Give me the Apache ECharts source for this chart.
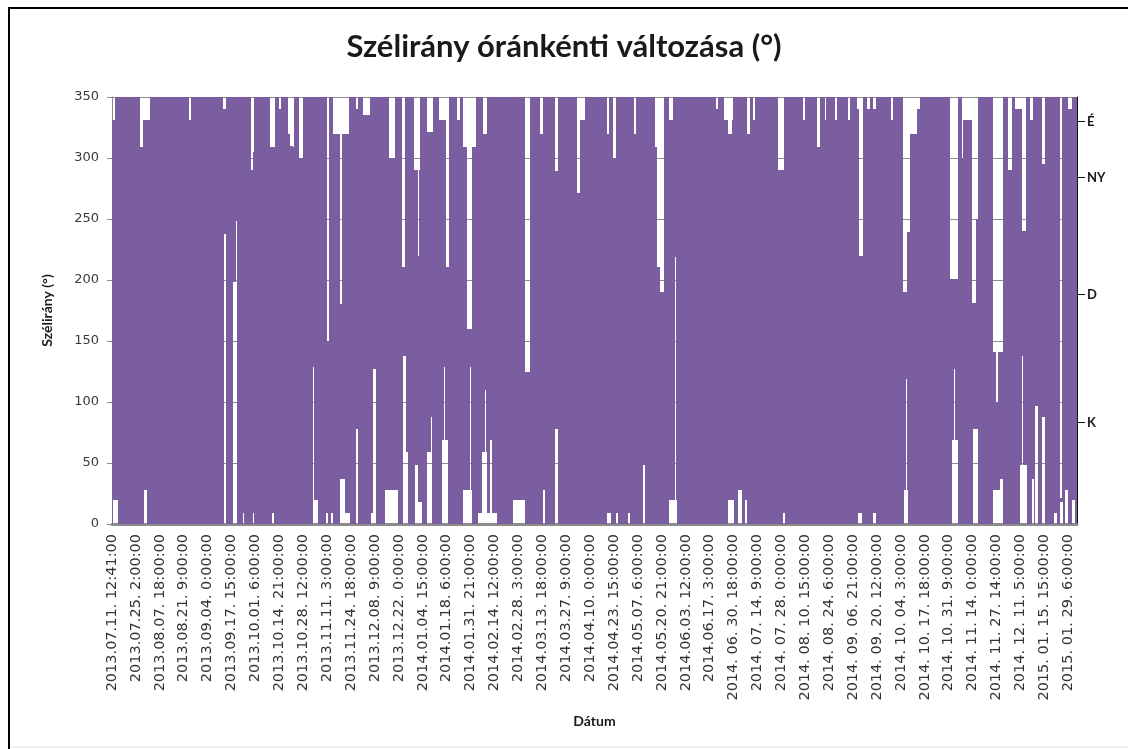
<!DOCTYPE html>
<html>
<head>
<meta charset="utf-8">
<title>Szélirány óránkénti változása</title>
<script src="https://cdn.jsdelivr.net/npm/echarts@6/dist/echarts.min.js"></script>
<style>
  html, body { margin: 0; padding: 0; background: #ffffff; }
  #chart { width: 1128px; height: 749px; }
</style>
</head>
<body>
<div id="chart"></div>
<script>
// Hourly records: index of the record (one per hour) on the x axis
const RECORD_COUNT = 13200;
const LABEL_STEP = 327; // records between two date labels

const dateLabels = [
  '2013.07.11. 12:41:00', '2013.07.25. 2:00:00', '2013.08.07. 18:00:00', '2013.08.21. 9:00:00',
  '2013.09.04. 0:00:00', '2013.09.17. 15:00:00', '2013.10.01. 6:00:00', '2013.10.14. 21:00:00',
  '2013.10.28. 12:00:00', '2013.11.11. 3:00:00', '2013.11.24. 18:00:00', '2013.12.08. 9:00:00',
  '2013.12.22. 0:00:00', '2014.01.04. 15:00:00', '2014.01.18. 6:00:00', '2014.01.31. 21:00:00',
  '2014.02.14. 12:00:00', '2014.02.28. 3:00:00', '2014.03.13. 18:00:00', '2014.03.27. 9:00:00',
  '2014.04.10. 0:00:00', '2014.04.23. 15:00:00', '2014.05.07. 6:00:00', '2014.05.20. 21:00:00',
  '2014.06.03. 12:00:00', '2014.06.17. 3:00:00', '2014. 06. 30. 18:00:00', '2014. 07. 14. 9:00:00',
  '2014. 07. 28. 0:00:00', '2014. 08. 10. 15:00:00', '2014. 08. 24. 6:00:00', '2014. 09. 06. 21:00:00',
  '2014. 09. 20. 12:00:00', '2014. 10. 04. 3:00:00', '2014. 10. 17. 18:00:00', '2014. 10. 31. 9:00:00',
  '2014. 11. 14. 0:00:00', '2014. 11. 27. 14:00:00', '2014. 12. 11. 5:00:00', '2015. 01. 15. 15:00:00',
  '2015. 01. 29. 6:00:00'
];

const DIR_MAX = 350;
const compassValues = [330, 284, 188, 83];
const compassNames = ['É', 'NY', 'D', 'K'];

// Record spans where the hourly direction never reached the top: [from, to, highest direction]
const topCuts = [
  [0, 41, 331], [383, 420, 309], [397, 520, 331], [1060, 1074, 331], [1514, 1560, 340],
  [1895, 1945, 305], [1905, 1935, 290], [2161, 2230, 309], [2290, 2305, 340],
  [2408, 2476, 320], [2435, 2476, 310], [2480, 2495, 309], [2558, 2613, 300],
  [2937, 2969, 150], [3023, 3119, 320], [3119, 3146, 180], [3146, 3242, 320],
  [3338, 3365, 340], [3434, 3530, 335], [3789, 3871, 300], [3963, 4008, 211],
  [4131, 4213, 290], [4186, 4200, 220], [4309, 4391, 321], [4473, 4569, 331],
  [4569, 4610, 211], [4715, 4761, 331], [4802, 4980, 309], [4861, 4921, 160],
  [5075, 5130, 320], [5650, 5714, 125], [5855, 5896, 320], [6060, 6101, 289],
  [6357, 6402, 271], [6375, 6471, 331], [6772, 6799, 320], [6854, 6895, 300],
  [7141, 7168, 320], [7428, 7496, 309], [7456, 7538, 211], [7496, 7551, 190],
  [7620, 7674, 331], [8263, 8290, 340], [8372, 8495, 331], [8427, 8482, 320],
  [8687, 8728, 320], [8765, 8796, 331], [9111, 9193, 290], [9449, 9476, 331],
  [9640, 9686, 309], [9754, 9768, 331], [9891, 9918, 331], [10068, 10096, 331],
  [10192, 10274, 340], [10219, 10274, 220], [10328, 10369, 340], [10410, 10451, 340],
  [10653, 10688, 331], [10821, 10880, 190], [10875, 10917, 239], [10917, 11013, 320],
  [11013, 11053, 340], [11464, 11573, 201], [11623, 11646, 300], [11642, 11778, 331],
  [11765, 11820, 181], [11806, 11847, 250], [12052, 12189, 141], [12093, 12121, 100],
  [12257, 12312, 290], [12353, 12449, 340], [12449, 12504, 240], [12558, 12595, 331],
  [12722, 12763, 295], [12969, 12996, 21], [13078, 13133, 340]
];

// Record spans where the hourly direction never went down to zero: [from, to, lowest direction]
const bottomCuts = [
  [14, 82, 20], [438, 479, 28], [1532, 1560, 238], [1651, 1710, 198], [1696, 1714, 248],
  [1792, 1806, 9], [1929, 1943, 9], [2189, 2216, 9], [2750, 2818, 20], [2750, 2768, 129],
  [2928, 2955, 9], [2996, 3023, 9], [3119, 3187, 37], [3187, 3256, 9], [3338, 3365, 78],
  [3543, 3571, 9], [3571, 3612, 127], [3735, 3912, 28], [3981, 4018, 138], [3981, 4049, 59],
  [4145, 4186, 48], [4172, 4241, 18], [4309, 4378, 59], [4357, 4371, 88], [4510, 4596, 69],
  [4542, 4556, 129], [4802, 4925, 28], [4898, 4911, 129], [5007, 5267, 9], [5062, 5130, 59],
  [5096, 5110, 110], [5171, 5198, 69], [5486, 5650, 20], [5896, 5923, 28], [6060, 6101, 78],
  [6772, 6826, 9], [6895, 6922, 9], [7059, 7086, 9], [7264, 7291, 48], [7620, 7729, 20],
  [7702, 7716, 219], [8427, 8509, 20], [8564, 8619, 28], [8660, 8687, 20], [9179, 9207, 9],
  [10205, 10260, 9], [10410, 10451, 9], [10835, 10890, 28], [10862, 10876, 119],
  [11491, 11573, 69], [11518, 11532, 127], [11778, 11847, 78], [12052, 12189, 28],
  [12148, 12189, 37], [12421, 12517, 48], [12449, 12463, 138], [12586, 12613, 37],
  [12627, 12668, 97], [12722, 12763, 88], [12887, 12928, 9], [12969, 13010, 18],
  [13037, 13078, 28], [13133, 13174, 20]
];

// Split the record range at every cut edge and find the covered direction range of each piece
function buildBands() {
  const edgeSet = new Set([0, RECORD_COUNT]);
  topCuts.concat(bottomCuts).forEach(c => { edgeSet.add(c[0]); edgeSet.add(c[1]); });
  const edges = Array.from(edgeSet).sort((a, b) => a - b);
  const bands = [];
  for (let i = 0; i < edges.length - 1; i++) {
    const a = edges[i], b = edges[i + 1], mid = (a + b) / 2;
    let hi = DIR_MAX, lo = 0;
    topCuts.forEach(c => { if (mid > c[0] && mid < c[1]) hi = Math.min(hi, c[2]); });
    bottomCuts.forEach(c => { if (mid > c[0] && mid < c[1]) lo = Math.max(lo, c[2]); });
    if (hi > lo) bands.push([a, b, lo, hi]);
  }
  return bands;
}

const PURPLE = '#7b5ea0';
const labelRecords = dateLabels.map((_, i) => i * LABEL_STEP);
const HEAD_FONT = 'Lato';

const chart = echarts.init(document.getElementById('chart'), null, { renderer: 'canvas' });

chart.setOption({
  animation: false,
  backgroundColor: '#ffffff',
  title: {
    text: 'Szélirány óránkénti változása (°)',
    left: 'center',
    top: 26,
    textStyle: { fontFamily: HEAD_FONT, fontWeight: 'bold', fontSize: 31, color: '#1a1a1a' }
  },
  grid: { left: 112, right: 51, top: 97, bottom: 225, containLabel: false },
  xAxis: {
    type: 'value',
    min: 0,
    max: RECORD_COUNT,
    name: 'Dátum',
    nameLocation: 'middle',
    nameGap: 190,
    nameTextStyle: { fontFamily: HEAD_FONT, fontWeight: 'bold', fontSize: 14, color: '#1a1a1a' },
    axisLine: { show: true, lineStyle: { color: '#8c8c8c', width: 3 } },
    axisTick: { show: false },
    splitLine: { show: false },
    axisLabel: {
      customValues: labelRecords,
      rotate: 90,
      margin: 10,
      fontFamily: 'DejaVu Sans',
      fontSize: 14.5,
      color: '#333333',
      formatter: v => dateLabels[Math.round(v / LABEL_STEP)]
    }
  },
  yAxis: [
    {
      type: 'value',
      min: 0,
      max: DIR_MAX,
      interval: 50,
      name: 'Szélirány (°)',
      nameLocation: 'middle',
      nameGap: 58,
      nameRotate: 90,
      nameTextStyle: { fontFamily: HEAD_FONT, fontWeight: 'bold', fontSize: 14, color: '#1a1a1a' },
      axisLine: { show: true, lineStyle: { color: '#8c8c8c', width: 1 } },
      axisTick: { show: true, inside: false, length: 5, lineStyle: { color: '#8c8c8c' } },
      splitLine: { show: true, lineStyle: { color: '#8c8c8c', width: 1 } },
      axisLabel: { fontFamily: 'DejaVu Sans', fontSize: 13, color: '#3a3a3a', margin: 13 }
    },
    {
      type: 'value',
      position: 'right',
      min: 0,
      max: DIR_MAX,
      axisLine: { show: true, lineStyle: { color: '#111111', width: 1 } },
      axisTick: { show: true, inside: false, length: 8, customValues: compassValues, lineStyle: { color: '#111111' } },
      splitLine: { show: false },
      axisLabel: {
        customValues: compassValues,
        margin: 10,
        fontFamily: HEAD_FONT,
        fontWeight: 'bold',
        fontSize: 13,
        color: '#1a1a1a',
        formatter: v => compassNames[compassValues.indexOf(v)]
      }
    }
  ],
  series: [
    {
      type: 'custom',
      name: 'Szélirány',
      xAxisIndex: 0,
      yAxisIndex: 0,
      clip: true,
      encode: { x: [0, 1], y: [2, 3] },
      data: buildBands(),
      renderItem: (params, api) => {
        const top = api.coord([api.value(0), api.value(3)]);
        const bottom = api.coord([api.value(1), api.value(2)]);
        const x0 = Math.round(top[0]);
        const x1 = Math.round(bottom[0]);
        const y0 = Math.round(top[1]);
        const y1 = Math.round(bottom[1]);
        if (x1 <= x0 || y1 <= y0) return null;
        return {
          type: 'rect',
          shape: { x: x0, y: y0, width: x1 - x0, height: y1 - y0 },
          style: { fill: PURPLE }
        };
      }
    }
  ],
  graphic: [
    { type: 'line', shape: { x1: 8, y1: 8, x2: 1128, y2: 8 }, style: { stroke: '#000000', lineWidth: 2 } },
    { type: 'line', shape: { x1: 9, y1: 8, x2: 9, y2: 749 }, style: { stroke: '#000000', lineWidth: 2 } },
    { type: 'line', shape: { x1: 10, y1: 747, x2: 1128, y2: 747 }, style: { stroke: '#e2e2e2', lineWidth: 1 } }
  ]
});
</script>
</body>
</html>
